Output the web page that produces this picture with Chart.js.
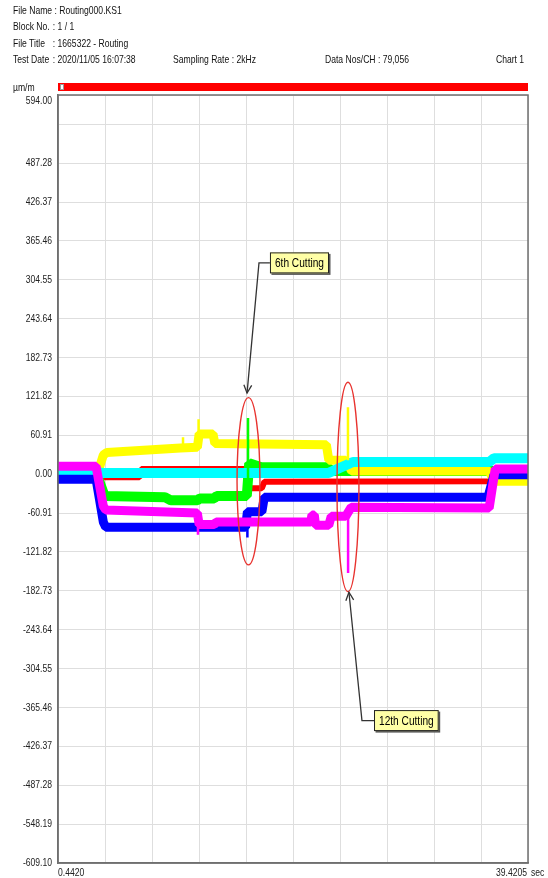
<!DOCTYPE html>
<html>
<head>
<meta charset="utf-8">
<title>Routing000.KS1 - Chart 1</title>
<script src="https://cdn.jsdelivr.net/npm/chart.js@4.4.1/dist/chart.umd.min.js"></script>
<style>
  body { margin: 0; background: #fff; }
  #wrap { position: relative; width: 548px; height: 878px; overflow: hidden; }
  #chart { position: absolute; left: 0; top: 0; }
  /* the original print uses a narrow face; squeeze Liberation Sans to get close */
  .hd { position: absolute; font: 11px "Liberation Sans", Arial, sans-serif; color: #111; white-space: pre; line-height: 14px;
        transform: scaleX(0.78); transform-origin: left top; }
  .hd.r { transform-origin: right top; }
  .lbl { display: inline-block; width: 51px; }
</style>
</head>
<body>
<div id="wrap">
  <canvas id="chart" width="548" height="878"></canvas>
  <div class="hd" style="left:13px;top:3px">File Name : Routing000.KS1</div>
  <div class="hd" style="left:13px;top:19px"><span class="lbl">Block No.</span>: 1 / 1</div>
  <div class="hd" style="left:13px;top:36px"><span class="lbl">File Title</span>: 1665322 - Routing</div>
  <div class="hd" style="left:13px;top:52px"><span class="lbl">Test Date</span>: 2020/11/05 16:07:38</div>
  <div class="hd" style="left:173px;top:52px">Sampling Rate : 2kHz</div>
  <div class="hd" style="left:325px;top:52px">Data Nos/CH : 79,056</div>
  <div class="hd r" style="right:24px;top:52px">Chart 1</div>
  <div class="hd" style="left:13px;top:80px">µm/m</div>
</div>

<script>
// DATA PART

var FONT = '"Liberation Sans", Arial, sans-serif';
var SQUEEZE = 0.78;

// axis
var xMin = 0.4420;
var xMax = 39.4205;
var xGrid = [0.4420, 4.3399, 8.2377, 12.1356, 16.0334, 19.9313, 23.8291, 27.7270, 31.6248, 35.5227, 39.4205];
var xEndLabels = ['0.4420', '39.4205'];
var xUnit = 'sec';

var yTicks = [594.00, 548.19, 487.28, 426.37, 365.46, 304.55, 243.64, 182.73, 121.82, 60.91, 0.00,
              -60.91, -121.82, -182.73, -243.64, -304.55, -365.46, -426.37, -487.28, -548.19, -609.10];
var yTickLabels = ['594.00', '', '487.28', '426.37', '365.46', '304.55', '243.64', '182.73', '121.82', '60.91', '0.00',
                   '-60.91', '-121.82', '-182.73', '-243.64', '-304.55', '-365.46', '-426.37', '-487.28', '-548.19', '-609.10'];

// channels (time in sec, strain in µm/m)
var yellowT = [0.44, 3.7, 4.2, 4.5, 10.6, 12.0, 12.15, 13.3, 13.45, 22.7, 22.9, 24.3, 24.8, 36.2, 36.6, 39.42];
var yellowV = [0, 0, 30, 34, 41, 42, 63, 63, 48, 46, 22, 22, 5, 5, -11, -11];

var cyanT = [0.44, 3.7, 4.2, 22.9, 24.9, 36.2, 36.6, 39.42];
var cyanV = [3, 3, 2, 2, 19, 19, 25, 25];

var redT = [0.44, 3.9, 4.2, 7.2, 7.35, 15.95, 16.15, 17.35, 17.55, 36.2, 36.6, 39.42];
var redV = [0, 0, -5, -5, 8, 8, -22, -22, -12, -11, -10, -10];

var greenT = [0.44, 3.7, 4.3, 9.3, 9.8, 12.0, 12.2, 13.4, 13.6, 16.1, 16.3, 17.3, 22.8, 23.1, 39.42];
var greenV = [-2, -2, -34, -36, -41, -41, -38, -38, -34, -34, 17, 11, 11, 5, 5];

var magentaT = [0.44, 3.6, 4.2, 4.4, 12.0, 12.15, 13.4, 13.55, 21.4, 21.5, 21.7, 21.8, 22.9, 23.1, 24.3, 24.75, 36.2, 36.7, 39.42];
var magentaV = [12.5, 12.5, -50, -56, -61, -79, -79, -75, -75, -64, -64, -80, -80, -66, -66, -52, -53, 8, 8];

var blueT = [0.44, 3.6, 4.2, 4.4, 16.0, 16.15, 17.35, 17.55, 36.1, 36.6, 39.42];
var blueV = [-8, -8, -75, -83, -83, -59, -59, -36, -36, -1, -1];

// single peaks
var yellowSpikeT = [10.81, 12.1, 24.49];
var yellowSpikeFrom = [41, 63, 22];
var yellowSpikeTo = [58, 86, 105];

var greenSpikeT = [16.2];
var greenSpikeFrom = [-34];
var greenSpikeTo = [88];

var magentaSpikeT = [12.05, 24.5];
var magentaSpikeFrom = [-61, -66];
var magentaSpikeTo = [-95, -155];

var blueSpikeT = [16.15];
var blueSpikeFrom = [-83];
var blueSpikeTo = [-99];

// marks
var ellipseT = [16.24, 24.49];
var ellipseV = [-11, -20];
var ellipseRT = [0.95, 0.91];
var ellipseRV = [131, 164];

var calloutText = ['6th Cutting', '12th Cutting'];
var calloutBoxT = [18.02, 26.65];
var calloutBoxV = [331, -386];
var calloutElbowT = [17.11, 25.65];
var calloutTipT = [16.12, 24.57];
var calloutTipV = [127, -185];

// FUNCTION PART

function series(t, v){
    return t.map((x, i) => ({x: x, y: v[i]}));
}

function spikes(t, from, to){
    var pts = [];
    t.forEach((x, i) => {
        pts.push({x: x, y: from[i]});
        pts.push({x: x, y: to[i]});
        pts.push({x: x, y: null});
    });
    return pts;
}

function band(label, color, t, v, width, order){
    return {
        label: label,
        data: series(t, v),
        borderColor: color,
        borderWidth: width,
        order: order
    };
}

function spikeSet(label, color, t, from, to){
    return {
        label: label,
        data: spikes(t, from, to),
        borderColor: color,
        borderWidth: 2.5,
        spanGaps: false,
        order: 0
    };
}

// narrow text : canvas has no narrow face here, so squeeze it horizontally
function narrowText(ctx, txt, x, y, align){
    ctx.save();
    ctx.translate(x, y);
    ctx.scale(SQUEEZE, 1);
    ctx.textAlign = align;
    ctx.fillText(txt, 0, 0);
    ctx.restore();
}

var overlay = {
    id: 'overlay',
    afterDatasetsDraw(chart){
        var ctx = chart.ctx;
        var xs = chart.scales.x;
        var ys = chart.scales.y;

        ctx.save();
        // ellipses
        ctx.strokeStyle = '#e8322e';
        ctx.lineWidth = 1.4;
        ellipseT.forEach((t, i) => {
            var cx = xs.getPixelForValue(t);
            var cy = ys.getPixelForValue(ellipseV[i]);
            var rx = Math.abs(xs.getPixelForValue(t + ellipseRT[i]) - cx);
            var ry = Math.abs(ys.getPixelForValue(ellipseV[i] + ellipseRV[i]) - cy);
            ctx.beginPath();
            ctx.ellipse(cx, cy, rx, ry, 0, 0, Math.PI * 2);
            ctx.stroke();
        });

        // callouts
        ctx.font = '13px ' + FONT;
        calloutText.forEach((txt, i) => {
            var bx = xs.getPixelForValue(calloutBoxT[i]);
            var by = ys.getPixelForValue(calloutBoxV[i]);
            var ex = xs.getPixelForValue(calloutElbowT[i]);
            var tx = xs.getPixelForValue(calloutTipT[i]);
            var ty = ys.getPixelForValue(calloutTipV[i]);

            ctx.strokeStyle = '#333';
            ctx.lineWidth = 1.3;
            ctx.beginPath();
            ctx.moveTo(bx, by);
            ctx.lineTo(ex, by);
            ctx.lineTo(tx, ty);
            ctx.stroke();

            var ang = Math.atan2(ty - by, tx - ex);
            var len = 9;
            ctx.beginPath();
            ctx.moveTo(tx - len * Math.cos(ang - 0.45), ty - len * Math.sin(ang - 0.45));
            ctx.lineTo(tx, ty);
            ctx.lineTo(tx - len * Math.cos(ang + 0.45), ty - len * Math.sin(ang + 0.45));
            ctx.stroke();

            var w = ctx.measureText(txt).width * SQUEEZE + 10;
            var h = 21;
            ctx.fillStyle = '#555';
            ctx.fillRect(bx + 1.5, by - h / 2 + 1.5, w, h);
            ctx.fillStyle = '#ffffa6';
            ctx.fillRect(bx, by - h / 2, w, h);
            ctx.lineWidth = 1;
            ctx.strokeStyle = '#222';
            ctx.strokeRect(bx + 0.5, by - h / 2 + 0.5, w - 1, h - 1);
            ctx.fillStyle = '#000';
            ctx.textBaseline = 'middle';
            narrowText(ctx, txt, bx + 5, by + 1, 'left');
        });
        ctx.restore();
    },
    afterDraw(chart){
        var ctx = chart.ctx;
        var a = chart.chartArea;
        var ys = chart.scales.y;
        ctx.save();

        // frame
        ctx.strokeStyle = '#6f6f6f';
        ctx.lineWidth = 1.5;
        ctx.strokeRect(a.left, a.top, a.right - a.left, a.bottom - a.top);

        // red bar over the plot
        ctx.fillStyle = '#ff0000';
        ctx.fillRect(a.left, a.top - 12, a.right - a.left, 8);
        ctx.fillStyle = '#fff';
        ctx.fillRect(a.left + 2, a.top - 11, 4, 6);
        ctx.strokeStyle = '#999';
        ctx.lineWidth = 1;
        ctx.strokeRect(a.left + 2.5, a.top - 10.5, 3, 5);

        // y labels (top one sits just under the border)
        ctx.font = '11px ' + FONT;
        ctx.fillStyle = '#222';
        ctx.textBaseline = 'middle';
        yTicks.forEach((v, i) => {
            if(yTickLabels[i] === ''){
                return;
            }
            var py = i === 0 ? a.top + 6 : ys.getPixelForValue(v);
            narrowText(ctx, yTickLabels[i], a.left - 6, py, 'right');
        });

        // x end labels
        narrowText(ctx, xEndLabels[0], a.left, a.bottom + 10, 'left');
        narrowText(ctx, xEndLabels[1], a.right - 1, a.bottom + 10, 'right');
        narrowText(ctx, xUnit, a.right + 3, a.bottom + 10, 'left');

        ctx.restore();
    }
};

// CHART PART

var datasets = [
    spikeSet('yellow peak', '#ffff00', yellowSpikeT, yellowSpikeFrom, yellowSpikeTo),
    spikeSet('green peak', '#00ff00', greenSpikeT, greenSpikeFrom, greenSpikeTo),
    spikeSet('magenta peak', '#ff00ff', magentaSpikeT, magentaSpikeFrom, magentaSpikeTo),
    spikeSet('blue peak', '#0000ff', blueSpikeT, blueSpikeFrom, blueSpikeTo),
    band('CH magenta', '#ff00ff', magentaT, magentaV, 9, 1),
    band('CH blue', '#0000ff', blueT, blueV, 9, 2),
    band('CH cyan', '#00ffff', cyanT, cyanV, 10, 3),
    band('CH yellow', '#ffff00', yellowT, yellowV, 9, 4),
    band('CH green', '#00ff00', greenT, greenV, 10, 5),
    band('CH red', '#ff0000', redT, redV, 6, 6)
];

var chart = new Chart(document.getElementById('chart').getContext('2d'), {
    type: 'line',
    data: { datasets: datasets },
    options: {
        responsive: false,
        animation: false,
        devicePixelRatio: 1,
        layout: { padding: { top: 95, right: 20, bottom: 0, left: 0 } },
        plugins: {
            legend: { display: false },
            tooltip: { enabled: false }
        },
        elements: {
            point: { radius: 0 },
            line: { tension: 0, borderJoinStyle: 'bevel', borderCapStyle: 'butt' }
        },
        scales: {
            x: {
                type: 'linear',
                min: xMin,
                max: xMax,
                afterBuildTicks: (s) => { s.ticks = xGrid.map(v => ({value: v})); },
                afterFit: (s) => { s.height = 15; },
                ticks: { display: false },
                grid: { color: '#dedede', drawTicks: false },
                border: { color: '#6f6f6f', width: 1.5 }
            },
            y: {
                type: 'linear',
                min: yTicks[yTicks.length - 1],
                max: yTicks[0],
                afterBuildTicks: (s) => { s.ticks = yTicks.slice().reverse().map(v => ({value: v})); },
                afterFit: (s) => { s.width = 58; },
                ticks: { display: false },
                grid: { color: '#dedede', drawTicks: false },
                border: { color: '#6f6f6f', width: 1.5 }
            }
        }
    },
    plugins: [overlay]
});
</script>
</body>
</html>
